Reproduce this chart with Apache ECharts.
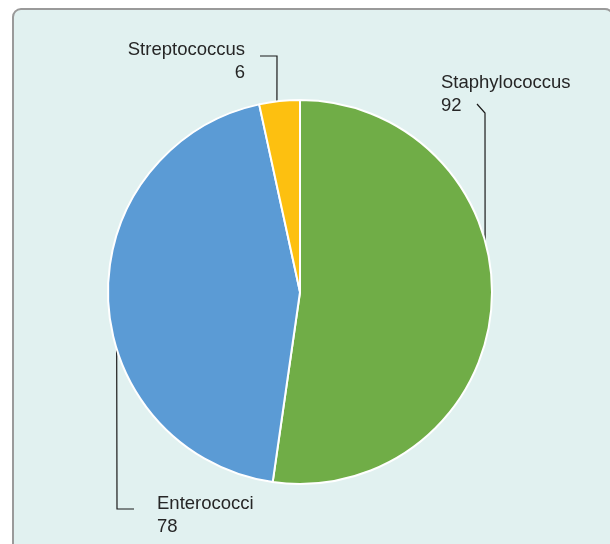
<!DOCTYPE html>
<html>
<head>
<meta charset="utf-8">
<script src="https://cdn.jsdelivr.net/npm/echarts@6/dist/echarts.min.js"></script>
<style>
  html, body { margin: 0; padding: 0; background: #fff; }
  #chart { width: 610px; height: 544px; }
</style>
</head>
<body>
<div id="chart"></div>
<script>
// bacteria groups and counts
const categories = ['Staphylococcus', 'Enterococci', 'Streptococcus']
const counts = [92, 78, 6]
const colors = ['#70ad47', '#5b9bd5', '#fdc010']

// pie geometry (px)
const cx = 300
const cy = 292
const radius = 192

// where each label sits and how its leader line bends
// start: angle on the rim, clockwise from the top
const labelSpots = [
  { x: 441, y: 71, align: 'left', start: 74.6, bend: [[485, 113], [477, 104]] },
  { x: 157, y: 492, align: 'left', start: 252.7, bend: [[117, 509], [134, 509]] },
  { x: 245, y: 38, align: 'right', start: 353.1, bend: [[277, 56], [260, 56]] },
]

function rimPoint(deg) {
  const a = deg * Math.PI / 180
  return [cx + radius * Math.sin(a), cy - radius * Math.cos(a)]
}

const chart = echarts.init(document.getElementById('chart'))
chart.setOption({
  animation: false,
  graphic: [{
    type: 'rect',
    z: -10,
    shape: { x: 13, y: 9, width: 600, height: 560, r: 8 },
    style: { fill: '#e1f1f0', stroke: '#9a9a9a', lineWidth: 2 },
  }],
  series: [{
    type: 'pie',
    center: [cx, cy],
    radius: radius,
    startAngle: 90,
    clockwise: true,
    data: categories.map((name, i) => ({ name, value: counts[i], itemStyle: { color: colors[i] } })),
    itemStyle: { borderColor: '#ffffff', borderWidth: 2 },
    label: {
      formatter: '{b}\n{c}',
      fontFamily: 'Liberation Sans, Arial, sans-serif',
      fontSize: 18.5,
      lineHeight: 23,
      color: '#262626',
      overflow: 'none',
      width: 200,
    },
    labelLine: {
      show: true,
      lineStyle: { color: '#1a1a1a', width: 1.2 },
    },
    labelLayout: (params) => {
      const s = labelSpots[params.dataIndex]
      return {
        x: s.x,
        y: s.y,
        align: s.align,
        verticalAlign: 'top',
        labelLinePoints: [rimPoint(s.start), s.bend[0], s.bend[1]],
      }
    },
    emphasis: { disabled: true },
  }],
})
</script>
</body>
</html>
